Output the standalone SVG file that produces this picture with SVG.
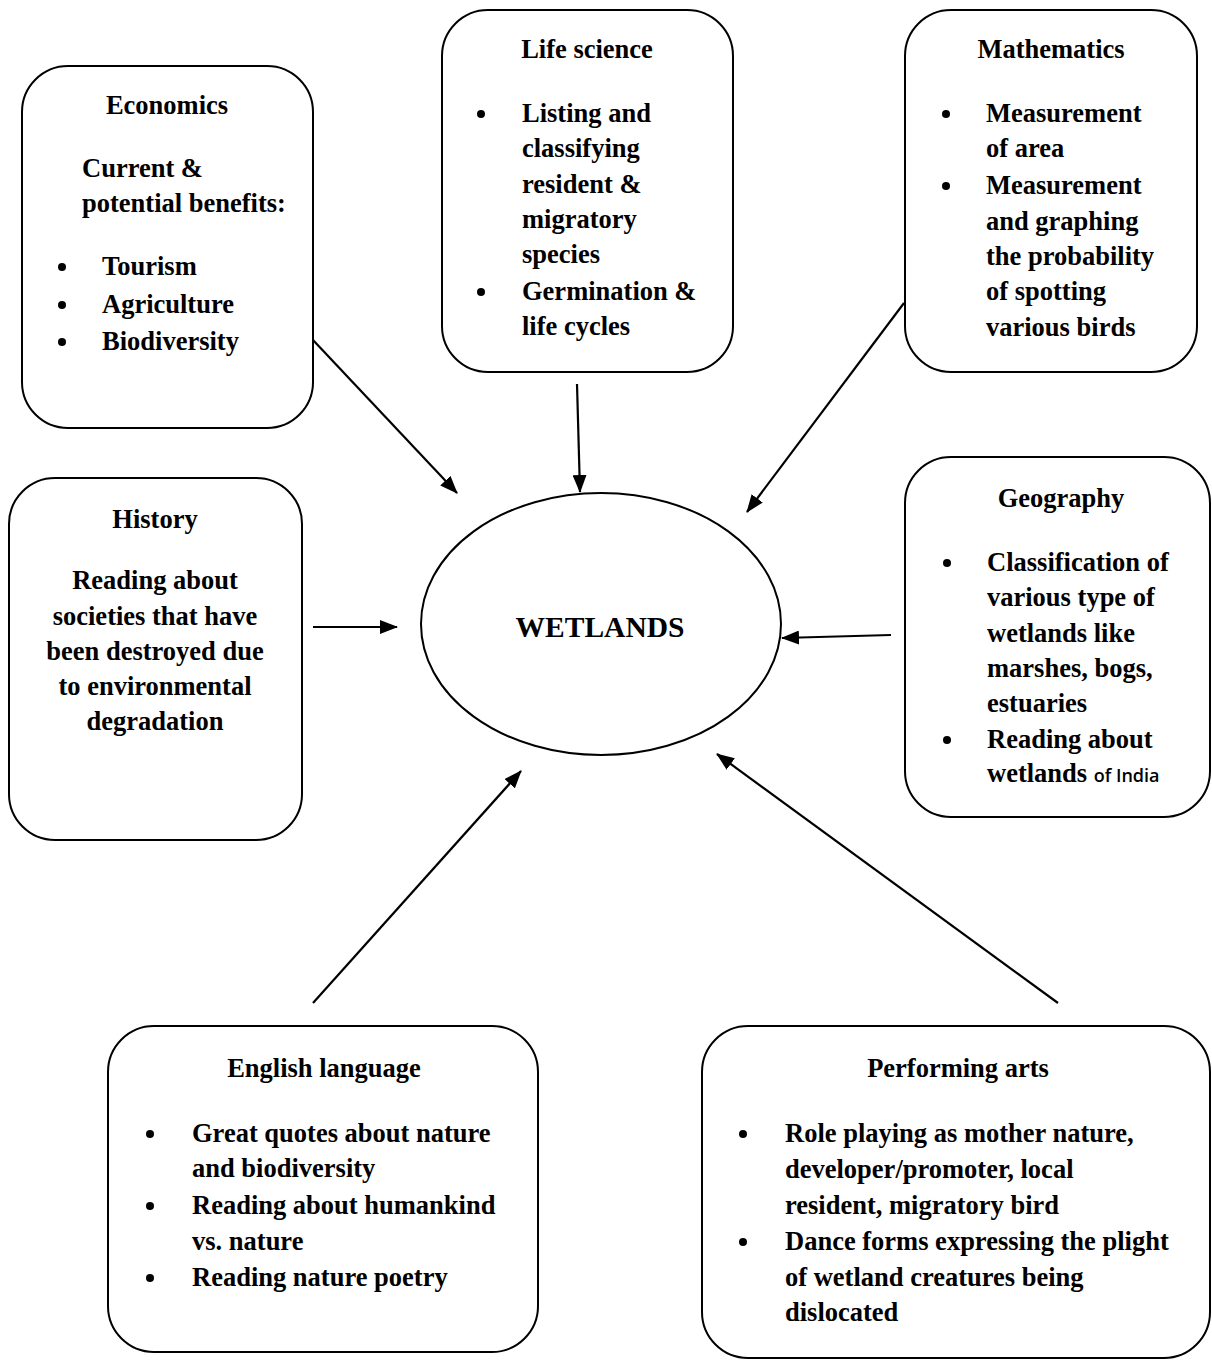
<svg xmlns="http://www.w3.org/2000/svg" width="1212" height="1361" viewBox="0 0 1212 1361">
<defs>
<style>
.box{fill:#fff;stroke:#000;stroke-width:2}
text{font-family:"Liberation Serif","Times New Roman",Times,serif;font-weight:bold;font-size:26.5px;fill:#000}
.t{text-anchor:middle}
.c{text-anchor:middle}
.sans{font-family:"Open Sans","Noto Sans",sans-serif;font-size:18px;font-weight:600}
.conn line{stroke:#000;stroke-width:2.2;marker-end:url(#ah)}
</style>
<marker id="ah" viewBox="0 0 18 14" refX="17" refY="7" markerWidth="18" markerHeight="14" markerUnits="userSpaceOnUse" orient="auto">
<path d="M0,0 L18,7 L0,14 z" fill="#000"/>
</marker>
</defs>
<rect width="1212" height="1361" fill="#fff"/>

<g id="economics">
<rect class="box" x="22" y="66" width="291" height="362" rx="46"/>
<text class="t" x="167" y="114">Economics</text>
<text x="82" y="177">Current &amp;</text>
<text x="82" y="212">potential benefits:</text>
<circle cx="62" cy="267" r="4"/><text x="102" y="275">Tourism</text>
<circle cx="62" cy="305" r="4"/><text x="102" y="313">Agriculture</text>
<circle cx="62" cy="342" r="4"/><text x="102" y="350">Biodiversity</text>
</g>

<g id="life-science">
<rect class="box" x="442" y="10" width="291" height="362" rx="46"/>
<text class="t" x="587" y="58">Life science</text>
<circle cx="481" cy="114" r="4"/><text x="522" y="122">Listing and</text>
<text x="522" y="157">classifying</text>
<text x="522" y="193">resident &amp;</text>
<text x="522" y="228">migratory</text>
<text x="522" y="263">species</text>
<circle cx="481" cy="292" r="4"/><text x="522" y="300">Germination &amp;</text>
<text x="522" y="335">life cycles</text>
</g>

<g id="mathematics">
<rect class="box" x="905" y="10" width="292" height="362" rx="46"/>
<text class="t" x="1051" y="58">Mathematics</text>
<circle cx="946" cy="114" r="4"/><text x="986" y="122">Measurement</text>
<text x="986" y="157">of area</text>
<circle cx="946" cy="186" r="4"/><text x="986" y="194">Measurement</text>
<text x="986" y="230">and graphing</text>
<text x="986" y="265">the probability</text>
<text x="986" y="300">of spotting</text>
<text x="986" y="336">various birds</text>
</g>

<g id="geography">
<rect class="box" x="905" y="457" width="305" height="360" rx="46"/>
<text class="t" x="1061" y="507">Geography</text>
<circle cx="947" cy="563" r="4"/><text x="987" y="571">Classification of</text>
<text x="987" y="606">various type of</text>
<text x="987" y="642">wetlands like</text>
<text x="987" y="677">marshes, bogs,</text>
<text x="987" y="712">estuaries</text>
<circle cx="947" cy="740" r="4"/><text x="987" y="748">Reading about</text>
<text x="987" y="782">wetlands <tspan class="sans">of India</tspan></text>
</g>

<g id="history">
<rect class="box" x="9" y="478" width="293" height="362" rx="46"/>
<text class="c" x="155" y="528">History</text>
<text class="c" x="155" y="589">Reading about</text>
<text class="c" x="155" y="625">societies that have</text>
<text class="c" x="155" y="660">been destroyed due</text>
<text class="c" x="155" y="695">to environmental</text>
<text class="c" x="155" y="730">degradation</text>
</g>

<g id="wetlands">
<ellipse class="box" cx="601" cy="624" rx="180" ry="131"/>
<text class="c" x="600" y="637" style="font-size:29.5px">WETLANDS</text>
</g>

<g id="english">
<rect class="box" x="108" y="1026" width="430" height="326" rx="46"/>
<text class="t" x="324" y="1077">English language</text>
<circle cx="150" cy="1134" r="4"/><text x="192" y="1142">Great quotes about nature</text>
<text x="192" y="1177">and biodiversity</text>
<circle cx="150" cy="1206" r="4"/><text x="192" y="1214">Reading about humankind</text>
<text x="192" y="1250">vs. nature</text>
<circle cx="150" cy="1278" r="4"/><text x="192" y="1286">Reading nature poetry</text>
</g>

<g id="performing-arts">
<rect class="box" x="702" y="1026" width="508" height="332" rx="46"/>
<text class="t" x="958" y="1077">Performing arts</text>
<circle cx="743" cy="1134" r="4"/><text x="785" y="1142">Role playing as mother nature,</text>
<text x="785" y="1178">developer/promoter, local</text>
<text x="785" y="1214">resident, migratory bird</text>
<circle cx="743" cy="1242" r="4"/><text x="785" y="1250">Dance forms expressing the plight</text>
<text x="785" y="1286">of wetland creatures being</text>
<text x="785" y="1321">dislocated</text>
</g>

<g id="connectors" class="conn">
<line x1="313" y1="340" x2="457" y2="493"/>
<line x1="577" y1="384" x2="580" y2="492"/>
<line x1="904" y1="303" x2="747" y2="512"/>
<line x1="313" y1="627" x2="397" y2="627"/>
<line x1="891" y1="635" x2="782" y2="638"/>
<line x1="313" y1="1003" x2="521" y2="771"/>
<line x1="1058" y1="1003" x2="717" y2="754"/>
</g>
</svg>
